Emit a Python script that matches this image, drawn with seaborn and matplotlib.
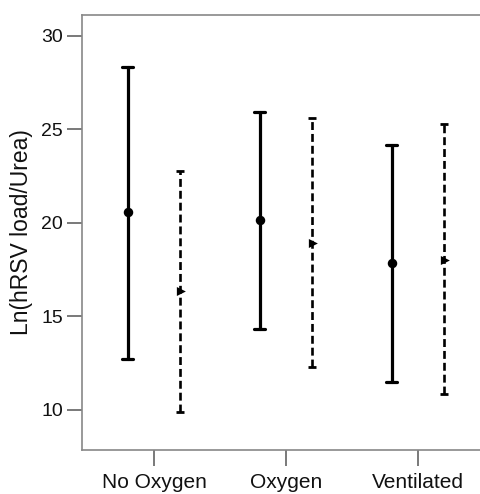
import numpy as np
import pandas as pd
import seaborn as sns
import matplotlib
matplotlib.use("Agg")
import matplotlib.pyplot as plt
from matplotlib.lines import Line2D

categories = ["No Oxygen", "Oxygen", "Ventilated"]
series = ["Series 1", "Series 2"]

s1_mean = [20.55, 20.12, 17.85]
s1_low = [12.73, 14.32, 11.51]
s1_high = [28.34, 25.90, 24.17]

s2_mean = [16.33, 18.93, 18.02]
s2_low = [9.88, 12.28, 10.84]
s2_high = [22.78, 25.57, 25.29]

y_ticks = [10, 15, 20, 25, 30]
y_label = "Ln(hRSV load/Urea)"

rows = []
for name, lo, mid, hi in [(series[0], s1_low, s1_mean, s1_high),
                          (series[1], s2_low, s2_mean, s2_high)]:
    for c, a, m, b in zip(categories, lo, mid, hi):
        for v in (a, m, b):
            rows.append({"group": c, "series": name, "value": v})
df = pd.DataFrame(rows)

sns.set_theme(style="white")
plt.rcParams["font.family"] = ["Liberation Sans", "DejaVu Sans"]

fig = plt.figure(figsize=(4.81, 4.94), dpi=100)
ax = fig.add_axes([82 / 481, 44 / 494, 1.0 - 82 / 481 + 0.02, (479 - 44) / 494])

sns.pointplot(data=df, x="group", y="value", hue="series",
              order=categories, hue_order=series,
              estimator="median", errorbar=lambda v: (v.min(), v.max()),
              dodge=0.4, linestyle="none", markers=["o", ">"],
              palette=["black", "black"], capsize=0.08,
              err_kws={"linewidth": 2.3}, markersize=4.5, legend=False, ax=ax)

new_lines = []
for ln in list(ax.lines):
    xd = np.asarray(ln.get_xdata(), dtype=float)
    yd = np.asarray(ln.get_ydata(), dtype=float)
    valid = xd[~np.isnan(xd)]
    if len(valid) == 0:
        continue
    center = np.nanmean(valid)
    is_second = center - np.round(center) > 0
    mk = ln.get_marker()
    if mk == "o":
        ln.set_markersize(4.8)
    elif mk == ">":
        ln.set_markersize(3.2)
        ln.set_zorder(5)
    else:
        if is_second and len(xd) == 8:
            # seaborn order: cap, nan, bar, nan, cap
            xv, yv = xd[3:5], yd[3:5]
            idx = [0, 1, 2, 5, 6, 7]
            capx = xd[idx].copy()
            capy = yd[idx].copy()
            xc = xv[0]
            capx = xc + (capx - xc) * 0.75
            ln.set_data(xv, yv)
            ln.set_linewidth(1.9)
            ln.set_dashes([3.0, 1.5])
            ln.set_dash_capstyle("butt")
            cap = Line2D(capx, capy, color="black", linewidth=2.0,
                         solid_capstyle="butt")
            new_lines.append(cap)
for cap in new_lines:
    ax.add_line(cap)

ax.set_xlim(-0.546, 2.55)
ax.set_ylim(7.85, 31.1)
ax.set_yticks(y_ticks)
ax.set_xlabel("")
ax.set_ylabel(y_label, fontsize=16.5, color="#111111", labelpad=6)

for side in ("left", "bottom", "top"):
    ax.spines[side].set_visible(True)
    ax.spines[side].set_color("#888888")
    ax.spines[side].set_linewidth(1.2)
ax.spines["right"].set_visible(False)

ax.tick_params(axis="y", length=10.8, width=1.1, color="#555555",
               labelsize=14, labelcolor="#111111", pad=3, left=True)
ax.tick_params(axis="x", length=11.5, width=1.1, color="#555555",
               labelsize=15, labelcolor="#111111", pad=5, bottom=True)

fig.savefig("out.png", dpi=100)
